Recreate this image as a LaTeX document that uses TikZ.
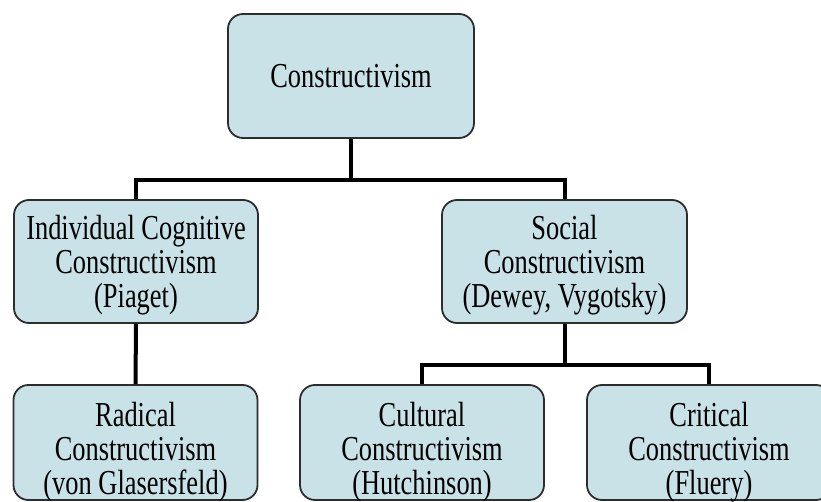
\documentclass[tikz,border=0pt]{standalone}
\usepackage{fontspec}
\setmainfont{Liberation Serif}[FakeStretch=0.755]
\definecolor{boxfill}{RGB}{200,226,232}
\definecolor{boxline}{RGB}{45,45,45}
\tikzset{
	conbox/.style={draw=boxline, line width=1.8pt, fill=boxfill, rounded corners=15pt,
		align=center, inner sep=0pt, text depth=0pt, font=\fontsize{35}{34}\selectfont},
	lowbox/.style={conbox, minimum width=244pt, minimum height=115pt, text height=104pt},
	link/.style={black, line width=4pt}
}
\begin{document}
\begin{tikzpicture}[x=1pt, y=1pt]
		% Draw frame
		\useasboundingbox (0,0) rectangle (821,-502);
		\clip (0,0) rectangle (821,-502);
		\fill [white] (0,0) rectangle (821,-502);
		% Draw boxes
		\node [conbox, minimum width=246pt, minimum height=124pt] (con) at (351,-76) {Constructivism};
		\node [conbox, minimum width=244pt, minimum height=123pt] (ind) at (136,-261.5) {Individual Cognitive\\Constructivism\\(Piaget)};
		\node [conbox, minimum width=245pt, minimum height=123pt] (soc) at (564.5,-261.5) {Social\\Constructivism\\(Dewey, Vygotsky)};
		\node [lowbox] (rad) at (135.5,-442.5) {Radical\\Constructivism\\(von Glasersfeld)};
		\node [lowbox] (cul) at (422,-442.5) {Cultural\\Constructivism\\(Hutchinson)};
		\node [lowbox] (cri) at (709,-442.5) {Critical\\Constructivism\\(Fluery)};
		% Draw connectors
		\coordinate (j1) at (351,-180);
		\coordinate (j2) at (564.5,-365);
		\draw [link] (con.south) -- (j1);
		\draw [link] (ind.north) |- (j1) -| (soc.north);
		\draw [link] (ind.south) -- (rad.north);
		\draw [link] (soc.south) -- (j2);
		\draw [link] (cul.north) |- (j2) -| (cri.north);
	\end{tikzpicture}
\end{document}
